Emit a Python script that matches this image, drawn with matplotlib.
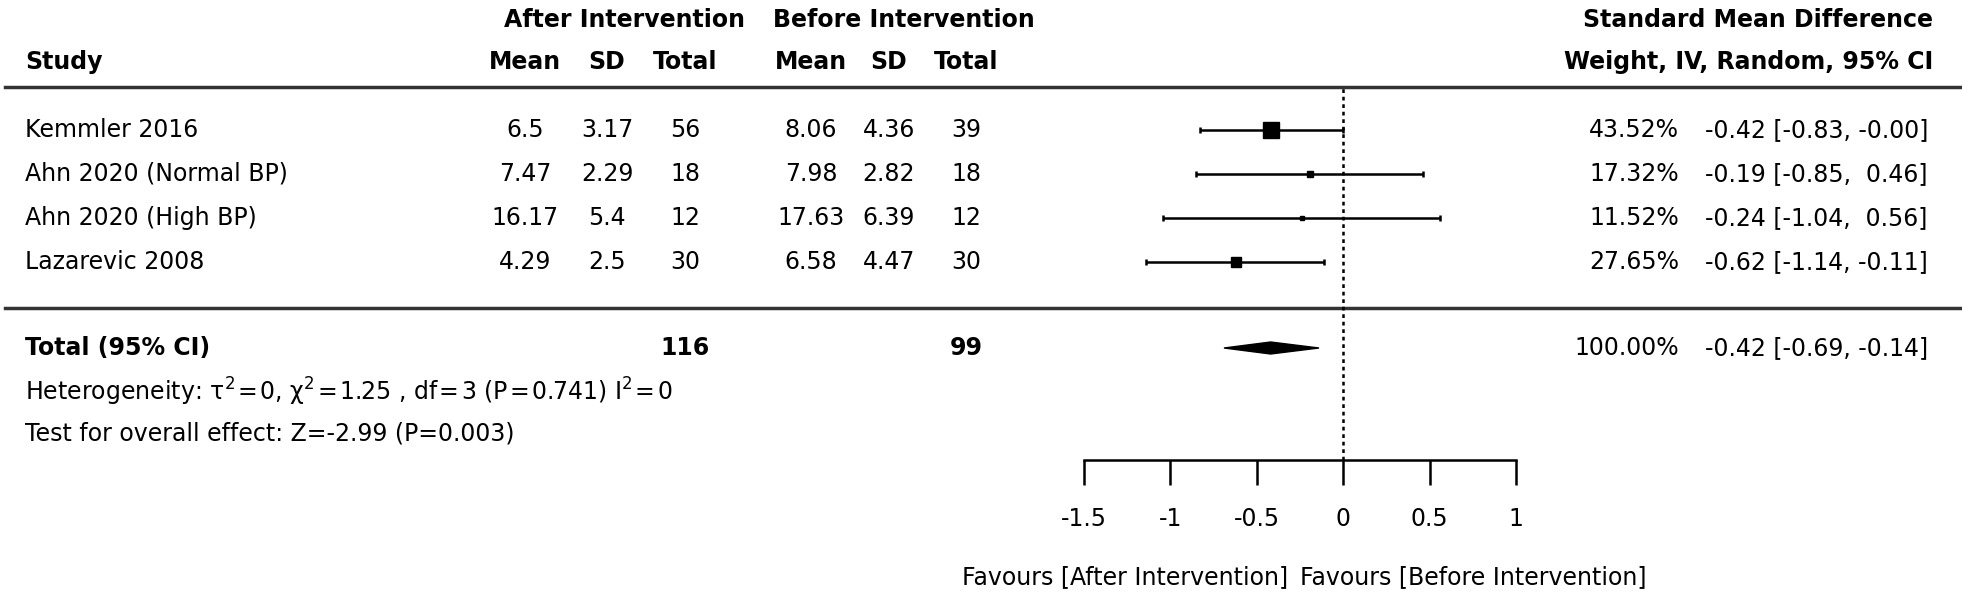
import numpy as np
import matplotlib
matplotlib.use("Agg")
import matplotlib.pyplot as plt
from matplotlib.patches import Polygon

# data
studies = ["Kemmler 2016", "Ahn 2020 (Normal BP)", "Ahn 2020 (High BP)", "Lazarevic 2008"]
after_mean = ["6.5", "7.47", "16.17", "4.29"]
after_sd = ["3.17", "2.29", "5.4", "2.5"]
after_n = [56, 18, 12, 30]
before_mean = ["8.06", "7.98", "17.63", "6.58"]
before_sd = ["4.36", "2.82", "6.39", "4.47"]
before_n = [39, 18, 12, 30]
weights = [43.52, 17.32, 11.52, 27.65]
smd = [-0.42, -0.19, -0.24, -0.62]
ci_lo = [-0.83, -0.85, -1.04, -1.14]
ci_hi = [-0.00, 0.46, 0.56, -0.11]
total_weight = 100.00
total_smd, total_lo, total_hi = -0.42, -0.69, -0.14
xticks = [-1.5, -1, -0.5, 0, 0.5, 1]
xtick_labels = ["-1.5", "-1", "-0.5", "0", "0.5", "1"]

W, H = 1962, 596
fs = 17
fig = plt.figure(figsize=(W / 100, H / 100), dpi=100)
plt.rcParams['font.family'] = ['DejaVu Sans']

# text layer in pixel coordinates
ax = fig.add_axes([0, 0, 1, 1])
ax.set_xlim(0, W)
ax.set_ylim(H, 0)
ax.axis("off")

y_h1, y_h2 = 20, 62
y_top_line, y_mid_line = 87, 308
row_y = [130 + 44 * i for i in range(len(studies))]
y_total, y_het, y_test = 348, 392, 434
y_axis = 460

cols = [525, 607, 685, 811, 889, 966]
x_pct, x_ci, x_right = 1679, 1705, 1933

ax.text(625, y_h1, "After Intervention", ha="center", va="center", fontsize=fs, fontweight="bold")
ax.text(904, y_h1, "Before Intervention", ha="center", va="center", fontsize=fs, fontweight="bold")
ax.text(x_right, y_h1, "Standard Mean Difference", ha="right", va="center", fontsize=fs, fontweight="bold")
ax.text(25, y_h2, "Study", ha="left", va="center", fontsize=fs, fontweight="bold")
for x, lab in zip(cols, ["Mean", "SD", "Total", "Mean", "SD", "Total"]):
    ax.text(x, y_h2, lab, ha="center", va="center", fontsize=fs, fontweight="bold")
ax.text(x_right, y_h2, "Weight, IV, Random, 95% CI", ha="right", va="center", fontsize=fs, fontweight="bold")

ax.plot([5, W], [y_top_line, y_top_line], color="#333333", lw=2.5)
ax.plot([5, W], [y_mid_line, y_mid_line], color="#333333", lw=2.5)

for i, y in enumerate(row_y):
    ax.text(25, y, studies[i], ha="left", va="center", fontsize=fs)
    vals = [after_mean[i], after_sd[i], after_n[i], before_mean[i], before_sd[i], before_n[i]]
    for x, v in zip(cols, vals):
        ax.text(x, y, str(v), ha="center", va="center", fontsize=fs)
    ax.text(x_pct, y, "%.2f%%" % weights[i], ha="right", va="center", fontsize=fs)
    hi = "%.2f" % ci_hi[i]
    if ci_hi[i] == 0:
        hi = "-0.00"
    if not hi.startswith("-"):
        hi = " " + hi
    ax.text(x_ci, y, "%.2f [%.2f, %s]" % (smd[i], ci_lo[i], hi), ha="left", va="center", fontsize=fs)

ax.text(25, y_total, "Total (95% CI)", ha="left", va="center", fontsize=fs, fontweight="bold")
ax.text(cols[2], y_total, str(sum(after_n)), ha="center", va="center", fontsize=fs, fontweight="bold")
ax.text(cols[5], y_total, str(sum(before_n)), ha="center", va="center", fontsize=fs, fontweight="bold")
ax.text(x_pct, y_total, "%.2f%%" % total_weight, ha="right", va="center", fontsize=fs)
ax.text(x_ci, y_total, "%.2f [%.2f, %.2f]" % (total_smd, total_lo, total_hi), ha="left", va="center", fontsize=fs)
ts = "\u200a"
het = ("Heterogeneity: \u03c4$^2$" + ts + "=" + ts + "0, \u03c7$^2$" + ts + "=" + ts + "1.25 , df" + ts + "=" + ts
       + "3 (P" + ts + "=" + ts + "0.741) I$^2$" + ts + "=" + ts + "0")
ax.text(25, y_het, het, ha="left", va="center", fontsize=fs)
ax.text(25, y_test, "Test for overall effect: Z=-2.99 (P=0.003)", ha="left", va="center", fontsize=fs)

ax.text(1288, 577, "Favours [After Intervention]", ha="right", va="center", fontsize=fs)
ax.text(1300, 577, "Favours [Before Intervention]", ha="left", va="center", fontsize=fs)

# forest panel
x0, x1 = 1084, 1516
axf = fig.add_axes([x0 / W, (H - y_axis) / H, (x1 - x0) / W, (y_axis - y_top_line) / H])
axf.set_xlim(-1.5, 1)
axf.set_ylim(y_axis, y_top_line)
axf.patch.set_alpha(0)
for s in ["top", "left", "right"]:
    axf.spines[s].set_visible(False)
axf.spines["bottom"].set_linewidth(1.8)
axf.set_yticks([])
axf.set_xticks(xticks)
axf.set_xticklabels(xtick_labels)
axf.tick_params(axis="x", direction="out", length=18, width=1.8, labelsize=fs, pad=16)

axf.axvline(0, color="black", ls=(0, (1.5, 1.5)), lw=1.8)

for i, y in enumerate(row_y):
    axf.errorbar(smd[i], y, xerr=[[smd[i] - ci_lo[i]], [ci_hi[i] - smd[i]]], fmt="none",
                 ecolor="black", elinewidth=1.8, capsize=2.2, capthick=1.8)
    axf.plot(smd[i], y, marker="s", color="black", markersize=weights[i] * 0.265, ls="none")

dia = Polygon([[total_lo, y_total], [total_smd, y_total - 6], [total_hi, y_total], [total_smd, y_total + 6]],
              closed=True, color="black")
axf.add_patch(dia)

fig.savefig("out.png", dpi=100)
